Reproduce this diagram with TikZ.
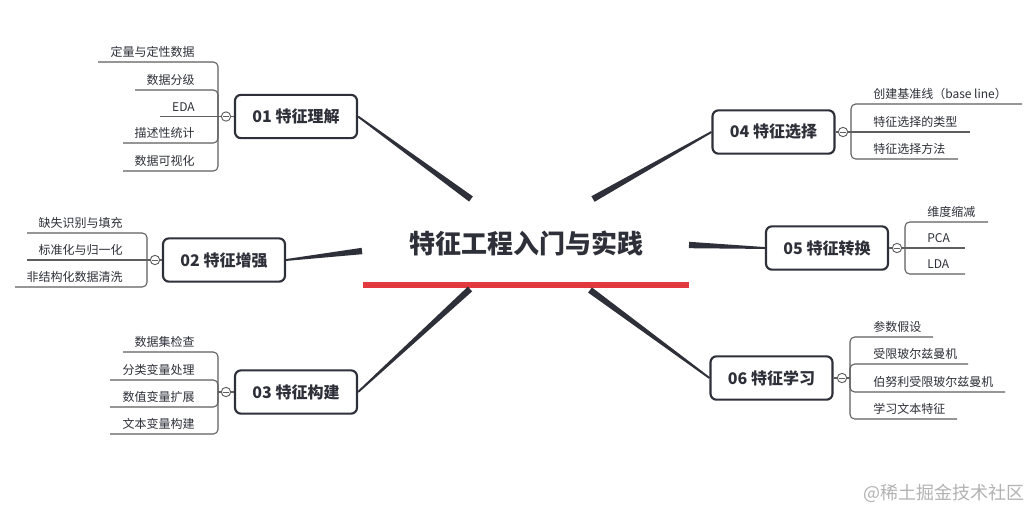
\documentclass[tikz,border=0pt]{standalone}
\usepackage{fontspec}
\setmainfont{Noto Sans CJK SC}
\usetikzlibrary{calc}
\definecolor{ink}{HTML}{2E3039}
\definecolor{leafline}{HTML}{5E5E5E}
\definecolor{redbar}{HTML}{E2393F}
\definecolor{wm}{HTML}{B2B2B2}
\newcommand{\taper}[4]{%
  \fill[ink] ($(#1)!#3!90:(#2)$) -- ($(#2)!#4!-90:(#1)$) -- ($(#2)!#4!90:(#1)$) -- ($(#1)!#3!-90:(#2)$) -- cycle;}
\tikzset{
  topic/.style={draw=ink, line width=1.6pt, rounded corners=4.5pt, fill=white,
    minimum width=91.5pt, minimum height=32.5pt, inner sep=0pt, text=ink,
    font=\bfseries\fontsize{12}{14}\selectfont},
  rootnode/.style={inner sep=0pt, text=ink, font=\bfseries\fontsize{19.5}{22}\selectfont},
  leaf/.style={inner sep=0pt, text=ink, font=\fontsize{9}{11}\selectfont},
  bracket/.style={draw=leafline, line width=0.8pt, rounded corners=3.5pt},
  fold/.style={circle, draw=leafline, fill=white, line width=0.7pt, minimum size=7pt, inner sep=0pt,
    path picture={\draw[leafline, line width=0.6pt] ([xshift=-2pt]path picture bounding box.center) -- ([xshift=2pt]path picture bounding box.center);}},
  watermark/.style={inner sep=0pt, text=wm, font=\fontsize{13.5}{16}\selectfont}
}
\begin{document}
\begin{tikzpicture}[x=0.75pt,y=-0.75pt]
\useasboundingbox (0,0) rectangle (1032,511);
\fill[white] (0,0) rectangle (1032,511);

% root
\node[rootnode] (root) at (526,243) {特征工程入门与实践};
\coordinate (rbL) at (363,285);
\coordinate (rbR) at (689,285);
\draw[redbar, line width=5.2pt] (rbL) -- (rbR);

% connector ends near root
\coordinate (k1) at (471,199);
\coordinate (k2) at (362,251);
\coordinate (k3) at (470,289);
\coordinate (k4) at (593,199);
\coordinate (k5) at (689,245);
\coordinate (k6) at (590,290);

% topics
\node[topic] (t1) at (296,116.5) {01 特征理解};
\node[topic] (t2) at (224,260) {02 特征增强};
\node[topic] (t3) at (296,392) {03 特征构建};
\node[topic] (t4) at (773.5,132) {04 特征选择};
\node[topic] (t5) at (827,248) {05 特征转换};
\node[topic] (t6) at (771.5,378) {06 特征学习};

\taper{k1}{t1.east}{2.4pt}{0.7pt}
\taper{k2}{t2.east}{2.4pt}{0.7pt}
\taper{k3}{t3.east}{2.4pt}{0.7pt}
\taper{k4}{t4.west}{2.4pt}{0.7pt}
\taper{k5}{t5.west}{2.4pt}{0.7pt}
\taper{k6}{t6.west}{2.4pt}{0.7pt}

% fold circles
\node[fold] (f1) at (226,116.5) {};
\node[fold] (f2) at (155,260) {};
\node[fold] (f3) at (226,392) {};
\node[fold] (f4) at (843,132) {};
\node[fold] (f5) at (897,248) {};
\node[fold] (f6) at (842,378) {};
\draw[bracket] (f1) -- (t1);
\draw[bracket] (f2) -- (t2);
\draw[bracket] (f3) -- (t3);
\draw[bracket] (f4) -- (t4);
\draw[bracket] (f5) -- (t5);
\draw[bracket] (f6) -- (t6);

% bracket roots
\coordinate (b1) at (218,116.5);
\coordinate (b2) at (147,260);
\coordinate (b3) at (218,392);
\coordinate (b4) at (851,132);
\coordinate (b5) at (905,248);
\coordinate (b6) at (850,378);
\draw[bracket] (f1) -- (b1);
\draw[bracket] (f2) -- (b2);
\draw[bracket] (f3) -- (b3);
\draw[bracket] (f4) -- (b4);
\draw[bracket] (f5) -- (b5);
\draw[bracket] (f6) -- (b6);

% ---- group 01
\node[leaf, anchor=base east] (l11) at (195,56.5) {定量与定性数据};
\node[leaf, anchor=base east] (l12) at (195,84.5) {数据分级};
\node[leaf, anchor=base east] (l13) at (195,111) {EDA};
\node[leaf, anchor=base east] (l14) at (195,137.5) {描述性统计};
\node[leaf, anchor=base east] (l15) at (195,165.5) {数据可视化};
\coordinate (e11) at (98,62);
\coordinate (e12) at (135,90);
\coordinate (e13) at (160,116.5);
\coordinate (e14) at (123,143);
\coordinate (e15) at (123,171);
\draw[bracket] (b1) |- (e11);
\draw[bracket] (b1) |- (e12);
\draw[bracket] (b1) -- (e13);
\draw[bracket] (b1) |- (e14);
\draw[bracket] (b1) |- (e15);

% ---- group 02
\node[leaf, anchor=base east] (l21) at (123,227.5) {缺失识别与填充};
\node[leaf, anchor=base east] (l22) at (123,254.5) {标准化与归一化};
\node[leaf, anchor=base east] (l23) at (123,281.5) {非结构化数据清洗};
\coordinate (e21) at (27,233);
\coordinate (e22) at (27,260);
\coordinate (e23) at (15,287);
\draw[bracket] (b2) |- (e21);
\draw[bracket] (b2) -- (e22);
\draw[bracket] (b2) |- (e23);

% ---- group 03
\node[leaf, anchor=base east] (l31) at (195,346.5) {数据集检查};
\node[leaf, anchor=base east] (l32) at (195,374.5) {分类变量处理};
\node[leaf, anchor=base east] (l33) at (195,401.5) {数值变量扩展};
\node[leaf, anchor=base east] (l34) at (195,428.5) {文本变量构建};
\coordinate (e31) at (123,352);
\coordinate (e32) at (110,380);
\coordinate (e33) at (110,407);
\coordinate (e34) at (110,434);
\draw[bracket] (b3) |- (e31);
\draw[bracket] (b3) |- (e32);
\draw[bracket] (b3) |- (e33);
\draw[bracket] (b3) |- (e34);

% ---- group 04
\node[leaf, anchor=base west] (l41) at (873,98.5) {创建基准线（base line）};
\node[leaf, anchor=base west] (l42) at (873,126.5) {特征选择的类型};
\node[leaf, anchor=base west] (l43) at (873,153.5) {特征选择方法};
\coordinate (e41) at (1022,104);
\coordinate (e42) at (970,132);
\coordinate (e43) at (958,159);
\draw[bracket] (b4) |- (e41);
\draw[bracket] (b4) -- (e42);
\draw[bracket] (b4) |- (e43);

% ---- group 05
\node[leaf, anchor=base west] (l51) at (927,216.5) {维度缩减};
\node[leaf, anchor=base west] (l52) at (927,242.5) {PCA};
\node[leaf, anchor=base west] (l53) at (927,268.5) {LDA};
\coordinate (e51) at (988,222);
\coordinate (e52) at (965,248);
\coordinate (e53) at (965,274);
\draw[bracket] (b5) |- (e51);
\draw[bracket] (b5) -- (e52);
\draw[bracket] (b5) |- (e53);

% ---- group 06
\node[leaf, anchor=base west] (l61) at (873,331.5) {参数假设};
\node[leaf, anchor=base west] (l62) at (873,358.5) {受限玻尔兹曼机};
\node[leaf, anchor=base west] (l63) at (873,386.5) {伯努利受限玻尔兹曼机};
\node[leaf, anchor=base west] (l64) at (873,413.5) {学习文本特征};
\coordinate (e61) at (933,337);
\coordinate (e62) at (968,364);
\coordinate (e63) at (1005,392);
\coordinate (e64) at (957,419);
\draw[bracket] (b6) |- (e61);
\draw[bracket] (b6) |- (e62);
\draw[bracket] (b6) |- (e63);
\draw[bracket] (b6) |- (e64);

% watermark
\node[watermark, anchor=east] (wmk) at (1025,493) {@稀土掘金技术社区};
\end{tikzpicture}
\end{document}
